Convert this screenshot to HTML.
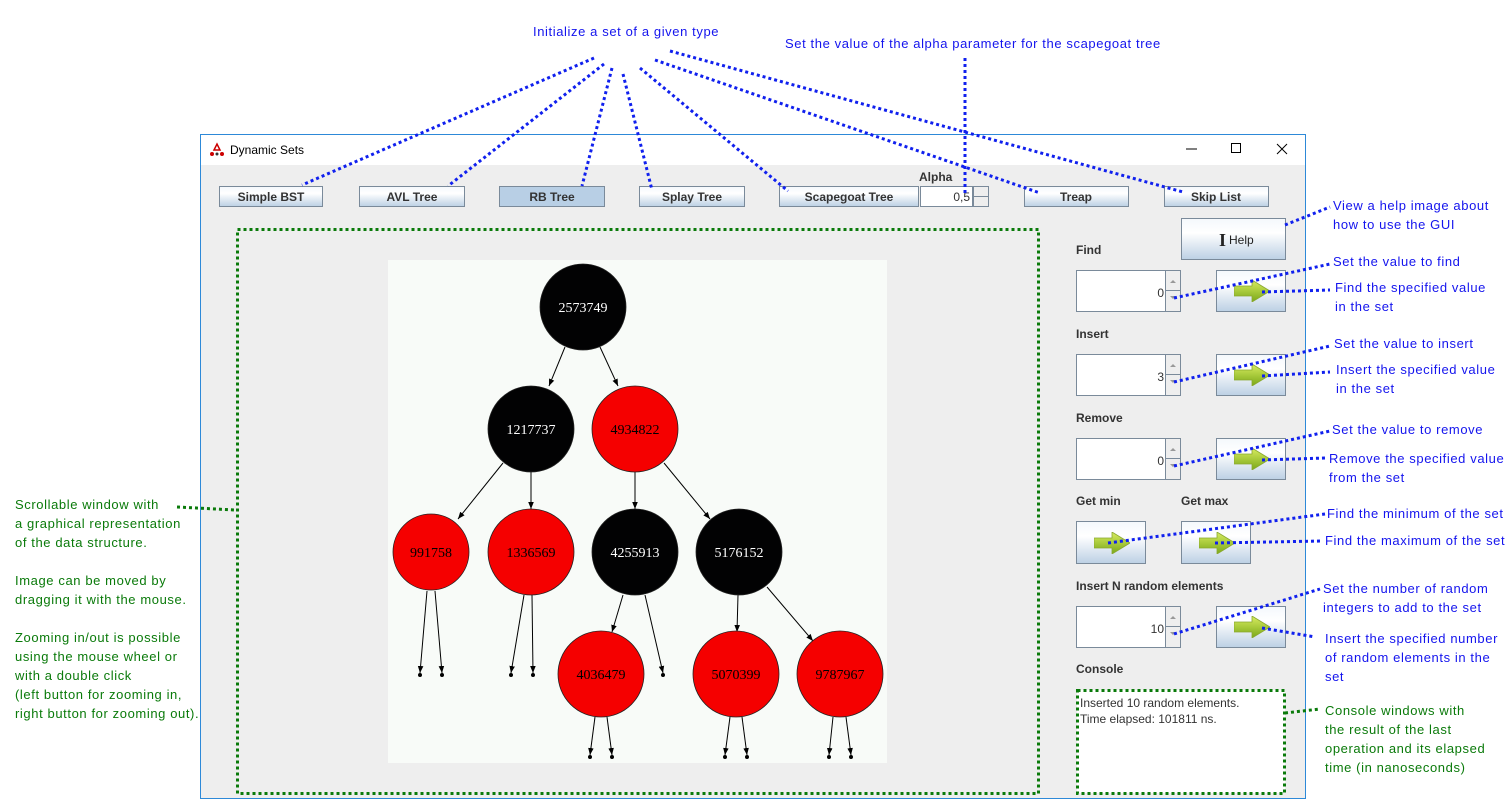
<!DOCTYPE html>
<html><head><meta charset="utf-8"><style>
html,body{margin:0;padding:0;background:#fff;}
svg{display:block;}
.a{font-family:"Liberation Sans","DejaVu Sans",sans-serif;font-size:13px;letter-spacing:0.6px;}
.b{fill:#1414ee;}
.g{fill:#0a7a0a;}
.bl{stroke:#1020ee;stroke-width:3;stroke-dasharray:3 3;fill:none;}
.gl{stroke:#0a7a0a;stroke-width:3;stroke-dasharray:3 3;fill:none;}
.btn{fill:url(#bg);stroke:#7a8a9a;stroke-width:1;}
.bt{font-family:"Liberation Sans",sans-serif;font-size:12px;font-weight:bold;fill:#333;}
.lab{font-family:"Liberation Sans",sans-serif;font-size:12px;font-weight:bold;fill:#333;}
.nt{font-family:"Liberation Serif",serif;font-size:14px;text-anchor:middle;}
.ed{stroke:#000;stroke-width:1;marker-end:url(#ah);}
</style></head><body>
<svg width="1510" height="799" viewBox="0 0 1510 799" xmlns="http://www.w3.org/2000/svg">
<defs>
<linearGradient id="bg" x1="0" y1="0" x2="0" y2="1"><stop offset="0" stop-color="#f4f8fc"/><stop offset="0.35" stop-color="#ffffff"/><stop offset="1" stop-color="#bcd0e4"/></linearGradient>
<linearGradient id="ag" x1="0" y1="0" x2="0" y2="1"><stop offset="0" stop-color="#d8ec60"/><stop offset="1" stop-color="#7aa818"/></linearGradient>
<marker id="ah" viewBox="0 0 10 10" refX="10" refY="5" markerWidth="7" markerHeight="7" orient="auto" markerUnits="userSpaceOnUse"><path d="M0,1 L10,5 L0,9 z" fill="#000"/></marker>
<symbol id="arr" viewBox="0 0 36 22"><path d="M0,6 H18 V0 L36,11 L18,22 V16 H0 z" fill="url(#ag)" stroke="#8aa830" stroke-width="0.8"/></symbol>
</defs>

<rect x="200.5" y="134.5" width="1105" height="664" fill="#eeeeee" stroke="#2d89d8" stroke-width="1"/>
<rect x="201" y="135" width="1104" height="30" fill="#fff"/>
<text x="230" y="154" style="font-family:'Liberation Sans',sans-serif;font-size:12px;fill:#000">Dynamic Sets</text>
<path d="M214,150 l3,-6 l3,6 z" fill="none" stroke="#c00" stroke-width="1.5"/><circle cx="212" cy="154" r="2" fill="#c00"/><circle cx="222" cy="154" r="2" fill="#c00"/><circle cx="217" cy="154" r="1.5" fill="#333"/>
<line x1="1186" y1="149" x2="1197" y2="149" stroke="#000"/>
<rect x="1231.5" y="143.5" width="9" height="9" fill="none" stroke="#000"/>
<path d="M1277,144 l10,10 M1287,144 l-10,10" stroke="#000"/>

<rect class="btn" x="219.5" y="186.5" width="103" height="20"/><text class="bt" x="271" y="201" text-anchor="middle">Simple BST</text>
<rect class="btn" x="359.5" y="186.5" width="105" height="20"/><text class="bt" x="412" y="201" text-anchor="middle">AVL Tree</text>
<rect x="499.5" y="186.5" width="105" height="20" fill="#b8cfe5" stroke="#7a8a9a"/><text class="bt" x="552" y="201" text-anchor="middle">RB Tree</text>
<rect class="btn" x="639.5" y="186.5" width="105" height="20"/><text class="bt" x="692" y="201" text-anchor="middle">Splay Tree</text>
<rect class="btn" x="779.5" y="186.5" width="139" height="20"/><text class="bt" x="849" y="201" text-anchor="middle">Scapegoat Tree</text>
<text class="lab" x="919" y="181">Alpha</text>
<rect x="920.5" y="186.5" width="52" height="20" fill="#fff" stroke="#7a8a9a"/>
<text x="970" y="201" text-anchor="end" style="font-family:'Liberation Sans',sans-serif;font-size:12px;fill:#333">0,5</text>
<rect x="973.5" y="186.5" width="15" height="10" fill="#eee" stroke="#7a8a9a"/><rect x="973.5" y="196.5" width="15" height="10" fill="#eee" stroke="#7a8a9a"/>
<rect class="btn" x="1024.5" y="186.5" width="104" height="20"/><text class="bt" x="1076" y="201" text-anchor="middle">Treap</text>
<rect class="btn" x="1164.5" y="186.5" width="104" height="20"/><text class="bt" x="1216" y="201" text-anchor="middle">Skip List</text>

<rect class="btn" x="1181.5" y="218.5" width="104" height="41"/>
<text x="1219" y="246" style="font-family:'Liberation Serif',serif;font-size:18px;font-weight:bold;fill:#222">I</text>
<text x="1229" y="244" style="font-family:'Liberation Sans',sans-serif;font-size:12px;fill:#222">Help</text>

<g class="lab">
<text x="1076" y="254">Find</text>
<text x="1076" y="338">Insert</text>
<text x="1076" y="422">Remove</text>
<text x="1076" y="505">Get min</text>
<text x="1181" y="505">Get max</text>
<text x="1076" y="590">Insert N random elements</text>
<text x="1076" y="673">Console</text>
</g>
<g id="sp">
<rect x="1076.5" y="270.5" width="89" height="41" fill="#fff" stroke="#7a8a9a"/>
<rect x="1165.5" y="270.5" width="15" height="20" fill="#eee" stroke="#7a8a9a"/><rect x="1165.5" y="290.5" width="15" height="21" fill="#eee" stroke="#7a8a9a"/>
<path d="M1170,283 l3,-3 l3,3z M1170,296 l3,3 l3,-3z" fill="#999"/>
</g>
<use href="#sp" y="84"/><use href="#sp" y="168"/><use href="#sp" y="336"/>
<g style="font-family:'Liberation Sans',sans-serif;font-size:12px;fill:#333" text-anchor="end">
<text x="1164" y="297">0</text><text x="1164" y="381">3</text><text x="1164" y="465">0</text><text x="1164" y="633">10</text>
</g>
<g id="ab"><rect class="btn" x="1216.5" y="270.5" width="69" height="41"/><use href="#arr" x="1234" y="280" width="36" height="22"/></g>
<use href="#ab" y="84"/><use href="#ab" y="168"/><use href="#ab" y="336"/>
<rect class="btn" x="1076.5" y="521.5" width="69" height="42"/><use href="#arr" x="1094" y="532" width="36" height="22"/>
<rect class="btn" x="1181.5" y="521.5" width="69" height="42"/><use href="#arr" x="1199" y="532" width="36" height="22"/>

<rect x="1077" y="690" width="208" height="103" fill="#fff"/>
<rect x="1077.5" y="690.5" width="207" height="103" class="gl"/>
<text x="1080" y="707" style="font-family:'Liberation Sans',sans-serif;font-size:12px;fill:#333">Inserted 10 random elements.</text>
<text x="1080" y="723" style="font-family:'Liberation Sans',sans-serif;font-size:12px;fill:#333">Time elapsed: 101811 ns.</text>

<rect x="388" y="260" width="499" height="503" fill="#f8fbf8"/>
<rect x="237.5" y="229.5" width="801" height="564" class="gl"/>

<g>
<line class="ed" x1="565" y1="347" x2="549" y2="386"/>
<line class="ed" x1="600" y1="347" x2="618" y2="386"/>
<line class="ed" x1="503" y1="463" x2="458" y2="519"/>
<line class="ed" x1="531" y1="472" x2="531" y2="509"/>
<line class="ed" x1="635" y1="472" x2="635" y2="509"/>
<line class="ed" x1="664" y1="463" x2="710" y2="519"/>
<line class="ed" x1="427" y1="591" x2="420" y2="673"/>
<line class="ed" x1="435" y1="591" x2="442" y2="673"/>
<line class="ed" x1="524" y1="595" x2="511" y2="673"/>
<line class="ed" x1="532" y1="595" x2="533" y2="673"/>
<line class="ed" x1="623" y1="595" x2="612" y2="632"/>
<line class="ed" x1="645" y1="595" x2="663" y2="673"/>
<line class="ed" x1="738" y1="595" x2="737" y2="632"/>
<line class="ed" x1="767" y1="587" x2="813" y2="641"/>
<line class="ed" x1="595" y1="717" x2="590" y2="755"/>
<line class="ed" x1="607" y1="717" x2="612" y2="755"/>
<line class="ed" x1="730" y1="717" x2="725" y2="755"/>
<line class="ed" x1="742" y1="717" x2="747" y2="755"/>
<line class="ed" x1="833" y1="717" x2="829" y2="755"/>
<line class="ed" x1="846" y1="717" x2="851" y2="755"/>
</g>
<g fill="#000">
<circle cx="420" cy="675" r="2"/><circle cx="442" cy="675" r="2"/><circle cx="511" cy="675" r="2"/><circle cx="533" cy="675" r="2"/><circle cx="663" cy="675" r="2"/>
<circle cx="590" cy="757" r="2"/><circle cx="612" cy="757" r="2"/><circle cx="725" cy="757" r="2"/><circle cx="747" cy="757" r="2"/><circle cx="829" cy="757" r="2"/><circle cx="851" cy="757" r="2"/>
</g>
<g stroke="#222" stroke-width="0.8">
<circle cx="583" cy="307" r="43" fill="#020203"/>
<circle cx="531" cy="429" r="43" fill="#020203"/>
<circle cx="635" cy="429" r="43" fill="#f50000"/>
<circle cx="431" cy="552" r="38" fill="#f50000"/>
<circle cx="531" cy="552" r="43" fill="#f50000"/>
<circle cx="635" cy="552" r="43" fill="#020203"/>
<circle cx="739" cy="552" r="43" fill="#020203"/>
<circle cx="601" cy="674" r="43" fill="#f50000"/>
<circle cx="736" cy="674" r="43" fill="#f50000"/>
<circle cx="840" cy="674" r="43" fill="#f50000"/>
</g>
<g class="nt">
<text x="583" y="312" fill="#fff">2573749</text>
<text x="531" y="434" fill="#fff">1217737</text>
<text x="635" y="434" fill="#000">4934822</text>
<text x="431" y="557" fill="#000">991758</text>
<text x="531" y="557" fill="#000">1336569</text>
<text x="635" y="557" fill="#fff">4255913</text>
<text x="739" y="557" fill="#fff">5176152</text>
<text x="601" y="679" fill="#000">4036479</text>
<text x="736" y="679" fill="#000">5070399</text>
<text x="840" y="679" fill="#000">9787967</text>
</g>

<g class="a b">
<text x="533" y="36">Initialize a set of a given type</text>
<text x="785" y="48">Set the value of the alpha parameter for the scapegoat tree</text>
<text x="1333" y="210">View a help image about</text>
<text x="1333" y="229">how to use the GUI</text>
<text x="1333" y="266">Set the value to find</text>
<text x="1335" y="292">Find the specified value</text>
<text x="1335" y="311">in the set</text>
<text x="1334" y="348">Set the value to insert</text>
<text x="1336" y="374">Insert the specified value</text>
<text x="1336" y="393">in the set</text>
<text x="1332" y="434">Set the value to remove</text>
<text x="1329" y="463">Remove the specified value</text>
<text x="1329" y="482">from the set</text>
<text x="1327" y="518">Find the minimum of the set</text>
<text x="1325" y="545">Find the maximum of the set</text>
<text x="1323" y="593">Set the number of random</text>
<text x="1323" y="612">integers to add to the set</text>
<text x="1325" y="643">Insert the specified number</text>
<text x="1325" y="662">of random elements in the</text>
<text x="1325" y="681">set</text>
</g>
<g class="a g">
<text x="1325" y="715">Console windows with</text>
<text x="1325" y="734">the result of the last</text>
<text x="1325" y="753">operation and its elapsed</text>
<text x="1325" y="772">time (in nanoseconds)</text>
<text x="15" y="509">Scrollable window with</text>
<text x="15" y="528">a graphical representation</text>
<text x="15" y="547">of the data structure.</text>
<text x="15" y="585">Image can be moved by</text>
<text x="15" y="604">dragging it with the mouse.</text>
<text x="15" y="642">Zooming in/out is possible</text>
<text x="15" y="661">using the mouse wheel or</text>
<text x="15" y="680">with a double click</text>
<text x="15" y="699">(left button for zooming in,</text>
<text x="15" y="718">right button for zooming out).</text>
</g>

<g class="bl">
<path d="M594,58 L302,185"/>
<path d="M604,64 L448,186"/>
<path d="M612,68 L582,186"/>
<path d="M623,74 L652,190"/>
<path d="M640,68 L788,191"/>
<path d="M655,60 L1040,193"/>
<path d="M670,51 L1183,192"/>
<path d="M965,58 L965,196"/>
<path d="M1285,225 L1330,207"/>
<path d="M1174,298 L1330,264"/>
<path d="M1262,292 L1330,290"/>
<path d="M1174,382 L1330,346"/>
<path d="M1262,376 L1330,372"/>
<path d="M1174,466 L1330,431"/>
<path d="M1262,460 L1325,458"/>
<path d="M1108,543 L1325,514"/>
<path d="M1215,543 L1322,541"/>
<path d="M1174,634 L1320,589"/>
<path d="M1262,628 L1315,637"/>
</g>
<g class="gl">
<path d="M1285,713 L1320,709"/>
<path d="M177,507 L235,510"/>
</g>
</svg>
</body></html>
